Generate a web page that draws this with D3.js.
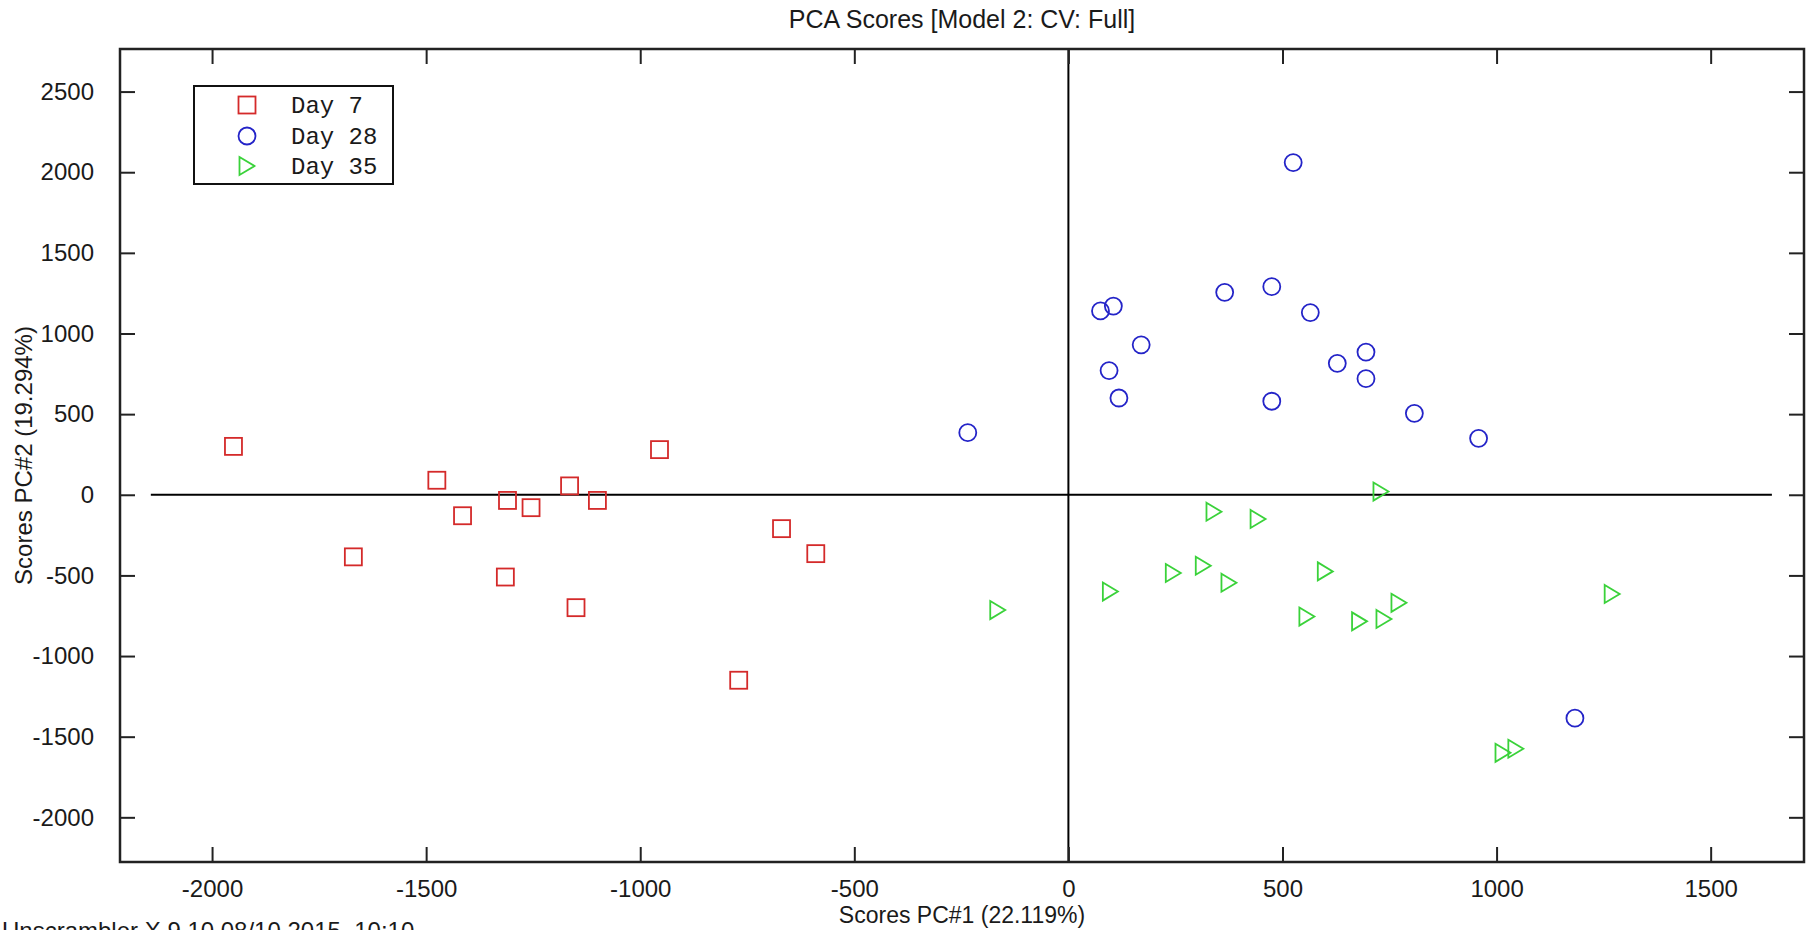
<!DOCTYPE html>
<html>
<head>
<meta charset="utf-8">
<script src="https://cdn.jsdelivr.net/npm/d3@7"></script>
<style>
  html, body { margin: 0; padding: 0; background: #fff; }
  svg { display: block; }
  text { font-family: "Liberation Sans", Arial, sans-serif; fill: #1a1a1a; }
</style>
</head>
<body>
<svg id="chart" width="1810" height="930"></svg>
<script>
// ---- data ----
const seriesNames = ["Day 7", "Day 28", "Day 35"];
const day7X = [-1950, -1670, -1475, -1415, -1310, -1315, -1255, -1165, -1150, -1100, -955, -770, -670, -590];
const day7Y = [300, -385, 90, -130, -35, -510, -80, 55, -700, -35, 280, -1150, -210, -365];
const day28X = [525, 475, 365, 565, 75, 105, 170, 95, 118, 695, 628, 695, 475, 808, 958, -235, 1183];
const day28Y = [2060, 1290, 1255, 1130, 1140, 1170, 930, 770, 600, 885, 815, 720, 580, 505, 350, 385, -1385];
const day35X = [730, 340, 443, 600, 315, 245, 375, -165, 98, 557, 680, 737, 772, 1270, 1015, 1045];
const day35Y = [20, -105, -150, -475, -440, -485, -545, -715, -600, -755, -785, -770, -670, -615, -1600, -1575];
const xTicks = [-2000, -1500, -1000, -500, 0, 500, 1000, 1500];
const yTicks = [-2000, -1500, -1000, -500, 0, 500, 1000, 1500, 2000, 2500];
const titleText = "PCA Scores [Model 2: CV: Full]";
const xTitle = "Scores PC#1 (22.119%)";
const yTitle = "Scores PC#2 (19.294%)";
const footerText = "Unscrambler X  9.10 08/10 2015, 10:10";

// ---- layout ----
const L = 120, R = 1804, T = 49, B = 862;
const svg = d3.select("#chart");
const x = d3.scaleLinear().domain([-2215, 1718]).range([L, R]);
const y = d3.scaleLinear().domain([-2277, 2764]).range([B, T]);
const tickLen = 15;
const axisColor = "#222";

// zero lines
svg.append("line").attr("x1", x(-2143)).attr("x2", x(1643)).attr("y1", y(0)).attr("y2", y(0))
  .attr("stroke", "#000").attr("stroke-width", 2);
svg.append("line").attr("x1", x(0)).attr("x2", x(0)).attr("y1", T).attr("y2", B)
  .attr("stroke", "#000").attr("stroke-width", 2);

// axes (ticks inward)
function styleAxis(g) {
  g.select(".domain").remove();
  g.selectAll(".tick line").attr("stroke", axisColor).attr("stroke-width", 2);
  g.selectAll(".tick text").attr("font-size", 24).attr("fill", "#1a1a1a")
    .attr("font-family", "Liberation Sans, Arial, sans-serif");
}
const fmt = d3.format("d");
svg.append("g").attr("transform", `translate(0,${B})`)
  .call(d3.axisBottom(x).tickValues(xTicks).tickFormat(d => fmt(d).replace("−", "-")).tickSizeInner(-tickLen).tickSizeOuter(0).tickPadding(18))
  .call(styleAxis);
svg.append("g").attr("transform", `translate(0,${T})`)
  .call(d3.axisTop(x).tickValues(xTicks).tickFormat("").tickSizeInner(-tickLen).tickSizeOuter(0))
  .call(styleAxis);
svg.append("g").attr("transform", `translate(${L},0)`)
  .call(d3.axisLeft(y).tickValues(yTicks).tickFormat(d => fmt(d).replace("−", "-")).tickSizeInner(-tickLen).tickSizeOuter(0).tickPadding(26))
  .call(styleAxis);
svg.append("g").attr("transform", `translate(${R},0)`)
  .call(d3.axisRight(y).tickValues(yTicks).tickFormat("").tickSizeInner(-tickLen).tickSizeOuter(0))
  .call(styleAxis);

// frame
svg.append("rect").attr("x", L).attr("y", T).attr("width", R - L).attr("height", B - T)
  .attr("fill", "none").attr("stroke", axisColor).attr("stroke-width", 2.5);

// markers
const red = "#d42a2a", blue = "#2424c8", green = "#3ad23a";
const sq = 17, cr = 8.5;
function squares(sel, xs, ys) {
  sel.selectAll(null).data(xs.map((v, i) => [v, ys[i]])).enter().append("rect")
    .attr("x", d => x(d[0]) - sq / 2).attr("y", d => y(d[1]) - sq / 2)
    .attr("width", sq).attr("height", sq).attr("fill", "none").attr("stroke", red).attr("stroke-width", 1.8);
}
function circles(sel, xs, ys) {
  sel.selectAll(null).data(xs.map((v, i) => [v, ys[i]])).enter().append("circle")
    .attr("cx", d => x(d[0])).attr("cy", d => y(d[1])).attr("r", cr)
    .attr("fill", "none").attr("stroke", blue).attr("stroke-width", 1.8);
}
function triPath(cx, cy) {
  const w = 15, h = 18;
  return `M${cx - w / 2},${cy - h / 2}L${cx + w / 2},${cy}L${cx - w / 2},${cy + h / 2}Z`;
}
function triangles(sel, xs, ys) {
  sel.selectAll(null).data(xs.map((v, i) => [v, ys[i]])).enter().append("path")
    .attr("d", d => triPath(x(d[0]), y(d[1])))
    .attr("fill", "none").attr("stroke", green).attr("stroke-width", 1.8).attr("stroke-linejoin", "miter");
}
const gPts = svg.append("g");
squares(gPts.append("g"), day7X, day7Y);
circles(gPts.append("g"), day28X, day28Y);
triangles(gPts.append("g"), day35X, day35Y);

// legend
const lg = svg.append("g");
lg.append("rect").attr("x", 194).attr("y", 86).attr("width", 199).attr("height", 98)
  .attr("fill", "#fff").attr("stroke", "#111").attr("stroke-width", 2);
const rowsY = [105, 136, 166];
const mx = 247;
lg.append("rect").attr("x", mx - sq / 2).attr("y", rowsY[0] - sq / 2).attr("width", sq).attr("height", sq)
  .attr("fill", "none").attr("stroke", red).attr("stroke-width", 1.8);
lg.append("circle").attr("cx", mx).attr("cy", rowsY[1]).attr("r", cr)
  .attr("fill", "none").attr("stroke", blue).attr("stroke-width", 1.8);
lg.append("path").attr("d", triPath(mx, rowsY[2]))
  .attr("fill", "none").attr("stroke", green).attr("stroke-width", 1.8);
lg.selectAll(null).data(seriesNames).enter().append("text")
  .attr("x", 291).attr("y", (d, i) => rowsY[i]).attr("dy", "0.35em")
  .attr("font-size", 24)
  .style("font-family", "'Liberation Mono', 'Courier New', monospace")
  .style("white-space", "pre")
  .text(d => d);

// titles
svg.append("text").attr("x", (L + R) / 2).attr("y", 28).attr("text-anchor", "middle")
  .attr("font-size", 25).text(titleText);
svg.append("text").attr("x", (L + R) / 2).attr("y", 923).attr("text-anchor", "middle")
  .attr("font-size", 23).text(xTitle);
svg.append("text").attr("transform", `translate(32,${(T + B) / 2}) rotate(-90)`).attr("text-anchor", "middle")
  .attr("font-size", 24).text(yTitle);
svg.append("text").attr("x", 2).attr("y", 939).attr("font-size", 24).attr("fill", "#333").text(footerText);
</script>
</body>
</html>
